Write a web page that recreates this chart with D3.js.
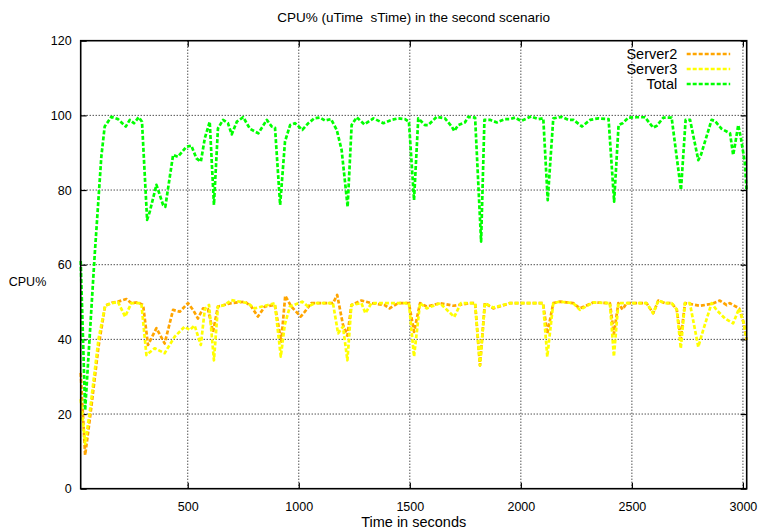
<!DOCTYPE html>
<html>
<head>
<meta charset="utf-8">
<script src="https://cdn.jsdelivr.net/npm/d3@7"></script>
<style>
    body { margin: 0; background: #fff; }
    text { font-family: "Liberation Sans", Arial, sans-serif; white-space: pre; }
</style>
</head>
<body>
<svg></svg>
<script>
// values (time in s, CPU in %)
const totalTime = [18, 38, 81, 111, 126, 156, 186, 221, 239, 258, 279, 294, 317, 329, 359, 389, 399, 434, 456, 494, 516, 539, 559, 577, 599, 618, 636, 659, 681, 698, 721, 750, 780, 818, 856, 878, 893, 916, 938, 961, 983, 1016, 1043, 1070, 1096, 1118, 1145, 1171, 1193, 1220, 1238, 1261, 1295, 1336, 1381, 1418, 1448, 1478, 1496, 1519, 1538, 1568, 1583, 1621, 1658, 1689, 1700, 1718, 1748, 1763, 1794, 1821, 1836, 1861, 1892, 1929, 1951, 1974, 2001, 2046, 2079, 2101, 2121, 2146, 2184, 2214, 2237, 2275, 2312, 2350, 2395, 2420, 2440, 2458, 2485, 2521, 2559, 2596, 2612, 2642, 2679, 2721, 2742, 2762, 2799, 2811, 2859, 2874, 2904, 2942, 2956, 2964, 2979, 2991, 3009, 3016];
const totalCpu = [61, 21, 62.6, 89, 97, 99.6, 99, 97, 98.8, 97.9, 99.5, 98.3, 72, 74.2, 81.4, 76, 75.5, 89.4, 88.9, 91.6, 91.9, 88.5, 87.6, 93.9, 98.3, 76, 96.5, 98.8, 97.9, 94.9, 98.3, 99.5, 96.4, 95.2, 98.8, 97, 96.7, 76, 93, 97.4, 97.9, 96.1, 97.9, 99.2, 99.4, 98.6, 99, 96.1, 90.7, 75.5, 97.4, 99.5, 97.6, 99.2, 97.9, 98.8, 99.2, 99, 98.3, 77.3, 99.2, 97.4, 97.4, 99.6, 99.2, 97, 95.8, 97.4, 98.1, 99.6, 99.4, 66.2, 98.8, 98.8, 98.1, 99, 99, 99.4, 98.5, 99.7, 99, 99.2, 77.3, 99.2, 99.6, 98.8, 98.8, 97, 98.8, 99.2, 99, 76.9, 97.4, 97.9, 99.4, 99.5, 99.5, 96.7, 97.2, 99.4, 99.4, 80, 98.8, 98.8, 88, 89.4, 98.8, 98.5, 96.4, 95.2, 89.4, 92, 97.4, 93.9, 87.2, 80];

const server2Time = [18, 38, 60, 98, 128, 158, 186, 224, 246, 276, 299, 321, 359, 396, 434, 464, 501, 524, 546, 569, 591, 614, 636, 696, 757, 786, 816, 847, 892, 921, 939, 966, 1009, 1027, 1056, 1117, 1154, 1173, 1199, 1219, 1237, 1282, 1327, 1387, 1409, 1447, 1496, 1519, 1546, 1576, 1636, 1696, 1771, 1794, 1816, 1838, 1876, 1951, 2041, 2100, 2119, 2146, 2176, 2236, 2266, 2326, 2401, 2419, 2439, 2458, 2476, 2566, 2596, 2619, 2649, 2679, 2702, 2720, 2739, 2761, 2806, 2859, 2896, 2927, 2941, 2983, 3004, 3016];
const server2Cpu = [31, 9, 19, 38, 49, 49.8, 50.1, 50.8, 49.7, 49.9, 49.2, 38.5, 43, 38.9, 47.9, 47.4, 49.7, 47.9, 45.6, 48.3, 48.1, 42, 48.8, 49.7, 50.1, 48.8, 46.1, 48.8, 49.2, 39.4, 51.7, 48.8, 46.1, 47.4, 49.7, 49.7, 49.7, 51.9, 43.9, 41, 49.2, 50.4, 49.7, 49.2, 48.3, 49.7, 49.7, 42, 49.7, 48.8, 49.7, 49, 49.7, 49.7, 33, 49.7, 48.3, 49.7, 49.7, 49.7, 41.5, 49.7, 50.1, 49.7, 48.3, 49.9, 49.7, 41.5, 49.7, 48, 49.7, 49.7, 47, 50.4, 49.7, 49.7, 48, 40, 49.7, 49.5, 49, 49.5, 50.4, 49.2, 49.7, 48.3, 44.3, 39.8];

const server3Time = [18, 38, 60, 98, 128, 158, 186, 218, 246, 291, 314, 351, 396, 441, 486, 509, 531, 559, 577, 596, 618, 636, 666, 696, 771, 801, 861, 892, 919, 937, 960, 1015, 1042, 1072, 1154, 1177, 1199, 1219, 1237, 1282, 1300, 1327, 1447, 1496, 1519, 1546, 1576, 1636, 1700, 1730, 1794, 1816, 1838, 1876, 1951, 2041, 2100, 2119, 2146, 2176, 2236, 2266, 2326, 2401, 2419, 2439, 2476, 2566, 2596, 2619, 2649, 2679, 2702, 2720, 2739, 2761, 2799, 2821, 2859, 2881, 2919, 2956, 2983, 3004, 3016];
const server3Cpu = [24, 12, 21, 40, 49, 49.7, 50, 46.1, 49.7, 49.7, 35.8, 37.6, 36.3, 40.7, 43.4, 42.5, 43.7, 38.5, 48.1, 49.2, 34.4, 48.8, 49.2, 50.5, 49.7, 48.3, 49.2, 49.7, 35.4, 43.9, 48.8, 50.1, 48.8, 49.7, 49.7, 41.6, 43.4, 34.4, 49.2, 49.7, 47, 49.7, 49.7, 49.7, 35.4, 49.7, 48.3, 49.7, 46, 49.7, 49.7, 33, 49.7, 48.5, 49.7, 49.7, 49.7, 35.4, 49.7, 50.1, 49.7, 47.9, 49.9, 49.7, 35.4, 49.7, 49.7, 49.7, 47, 50.4, 49.7, 49.7, 48, 37.6, 49.7, 49.7, 38, 42.5, 49.7, 47.9, 45.6, 44.3, 48.3, 44.3, 40];

const xTicks = [500, 1000, 1500, 2000, 2500, 3000];
const yTicks = [0, 20, 40, 60, 80, 100, 120];

const seriesNames = ["Server2", "Server3", "Total"];
const seriesColors = ["#ffa500", "#ffff00", "#00ff00"];

var svgWidth = 763, svgHeight = 532;
var margin = { top: 40.7, right: 16.3, bottom: 43.3, left: 80.7 };
var width = svgWidth - margin.left - margin.right;
var height = svgHeight - margin.top - margin.bottom;

var svg = d3.select("svg")
    .attr("width", svgWidth)
    .attr("height", svgHeight);

var g = svg.append("g")
    .attr("transform", "translate(" + margin.left + "," + margin.top + ")");

var x = d3.scaleLinear().domain([18, 3017]).range([0, width]);
var y = d3.scaleLinear().domain([0, 120]).range([height, 0]);

// grid
g.append("g")
    .selectAll("line")
    .data(xTicks)
    .enter().append("line")
    .attr("x1", d => x(d)).attr("x2", d => x(d))
    .attr("y1", 0).attr("y2", height)
    .attr("stroke", "#000")
    .attr("stroke-width", 1)
    .attr("stroke-dasharray", "1,2");

g.append("g")
    .selectAll("line")
    .data(yTicks.slice(1, -1))
    .enter().append("line")
    .attr("x1", 0).attr("x2", width)
    .attr("y1", d => y(d)).attr("y2", d => y(d))
    .attr("stroke", "#000")
    .attr("stroke-width", 1)
    .attr("stroke-dasharray", "1,2");

// axes, ticks inward like gnuplot
g.append("g")
    .attr("transform", "translate(0," + height + ")")
    .call(d3.axisBottom(x).tickValues(xTicks).tickFormat(d3.format("d")).tickSizeInner(-6).tickSizeOuter(0).tickPadding(13))
    .call(a => a.select(".domain").remove());

g.append("g")
    .call(d3.axisTop(x).tickValues(xTicks).tickSizeInner(-6).tickSizeOuter(0).tickFormat(""))
    .call(a => a.select(".domain").remove());

g.append("g")
    .call(d3.axisLeft(y).tickValues(yTicks).tickSizeInner(-6).tickSizeOuter(0).tickPadding(9))
    .call(a => a.select(".domain").remove());

g.append("g")
    .attr("transform", "translate(" + width + ",0)")
    .call(d3.axisRight(y).tickValues(yTicks).tickSizeInner(-6).tickSizeOuter(0).tickFormat(""))
    .call(a => a.select(".domain").remove());

g.selectAll(".tick line").attr("stroke", "#000").attr("stroke-width", 1.2);
g.selectAll(".tick text")
    .attr("fill", "#000")
    .style("font-size", "12.5px")
    .style("font-family", "'Liberation Sans', Arial, sans-serif");

// series
var line = d3.line()
    .x(d => x(d[0]))
    .y(d => y(d[1]));

var allSeries = [
    d3.zip(server2Time, server2Cpu),
    d3.zip(server3Time, server3Cpu),
    d3.zip(totalTime, totalCpu)
];

allSeries.forEach(function (s, i) {
    g.append("path")
        .datum(s)
        .attr("fill", "none")
        .attr("stroke", seriesColors[i])
        .attr("stroke-width", 2.7)
        .attr("stroke-dasharray", "4,2")
        .attr("stroke-linejoin", "round")
        .attr("d", line);
});

// frame
g.append("rect")
    .attr("width", width)
    .attr("height", height)
    .attr("fill", "none")
    .attr("stroke", "#000")
    .attr("stroke-width", 1.6);

// legend
var legend = g.append("g");
seriesNames.forEach(function (name, i) {
    var ly = 13.3 + i * 15;
    legend.append("text")
        .attr("x", 596.5)
        .attr("y", ly)
        .attr("dy", "0.35em")
        .attr("text-anchor", "end")
        .style("font-size", "14.5px")
        .text(name);
    legend.append("line")
        .attr("x1", 606).attr("x2", 649.5)
        .attr("y1", ly).attr("y2", ly)
        .attr("stroke", seriesColors[i])
        .attr("stroke-width", 2.6)
        .attr("stroke-dasharray", "4,2");
});

// titles
svg.append("text")
    .attr("x", 413.7)
    .attr("y", 22)
    .attr("text-anchor", "middle")
    .style("font-size", "13.5px")
    .text("CPU% (uTime  sTime) in the second scenario");

svg.append("text")
    .attr("x", 413.7)
    .attr("y", 527)
    .attr("text-anchor", "middle")
    .style("font-size", "14.5px")
    .text("Time in seconds");

svg.append("text")
    .attr("x", 27.5)
    .attr("y", 285.5)
    .attr("text-anchor", "middle")
    .style("font-size", "12.5px")
    .text("CPU%");
</script>
</body>
</html>
